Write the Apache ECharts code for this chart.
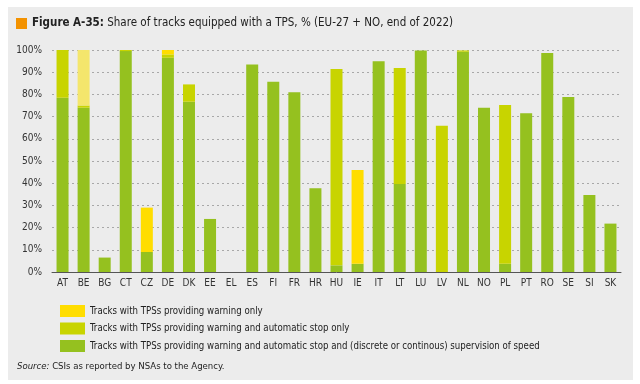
<!DOCTYPE html>
<html><head><meta charset="utf-8">
<script src="https://cdn.jsdelivr.net/npm/echarts@6/dist/echarts.min.js"></script>
<style>html,body{margin:0;padding:0;background:#fff}#c{width:640px;height:384px}</style>
</head><body><div id="c"></div>
<script>
const categories = ['AT','BE','BG','CT','CZ','DE','DK','EE','EL','ES','FI','FR','HR','HU','IE','IT','LT','LU','LV','NL','NO','PL','PT','RO','SE','SI','SK'];
const fullSupervision = [78.5,74,6.5,99.5,9,96.5,76.7,23.9,0,93.5,85.7,81,37.7,3,3.7,94.9,39.6,99.8,0,99.2,74,3.7,71.5,98.6,78.8,34.7,21.8];
const autoStopOnly = [21.5,1,0,0.5,0,1.5,7.8,0,0,0,0,0,0,88.4,0,0,52.3,0,65.9,0.6,0,71.5,0,0,0,0,0];
const warningOnly = [0,25,0,0,20,2,0,0,0,0,0,0,0,0,42.3,0,0,0,0,0,0,0,0,0,0,0,0];
const yTicks = [0,10,20,30,40,50,60,70,80,90,100];
const seriesNames = ['Tracks with TPSs providing warning only','Tracks with TPSs providing warning and automatic stop only','Tracks with TPSs providing warning and automatic stop and (discrete or continous) supervision of speed'];

const FONT = "'Liberation Sans Narrow','DejaVu Sans Condensed',sans-serif";
const chart = echarts.init(document.getElementById('c'));
const paleIdx = categories.indexOf('BE');
chart.setOption({
  animation:false,
  backgroundColor:'#ffffff',
  textStyle:{fontFamily:FONT},
  graphic:[
    {type:'rect',left:8,top:7,shape:{width:625,height:373},style:{fill:'#ececec'},z:-10},
    {type:'rect',left:16,top:18,shape:{width:11,height:11},style:{fill:'#f39200'}},
    {type:'text',left:32,top:17,style:{text:'{b|Figure A-35:} Share of tracks equipped with a TPS, % (EU-27 + NO, end of 2022)',
      rich:{b:{fontWeight:'bold',fontSize:11.5,fontFamily:FONT,fill:'#222'}},fontSize:11.5,fontFamily:FONT,fill:'#222'}},
    {type:'text',left:17,top:362,style:{text:'{i|Source:} CSIs as reported by NSAs to the Agency.',
      rich:{i:{fontStyle:'italic',fontSize:9.5,fontFamily:FONT,fill:'#222'}},fontSize:9.5,fontFamily:FONT,fill:'#222'}}
  ],
  legend:{
    orient:'vertical',left:55,top:300,itemWidth:25,itemHeight:12,itemGap:5.5,
    icon:'rect',data:seriesNames,
    textStyle:{fontSize:9.6,fontFamily:FONT,color:'#222',lineHeight:12,padding:[0,0,0,0]}
  },
  grid:{left:52,right:19,top:50,bottom:112},
  xAxis:{type:'category',data:categories,
    axisLine:{lineStyle:{color:'#555',width:1}},axisTick:{show:false},
    axisLabel:{fontSize:10,color:'#333',margin:6,interval:0}},
  yAxis:{type:'value',min:0,max:100,interval:10,
    axisLabel:{formatter:v=>yTicks.includes(v)?v+'%':'',fontSize:10,color:'#333',margin:10},
    axisLine:{show:false},axisTick:{show:false},
    splitLine:{lineStyle:{type:[2,3],color:'#a8a8a8',width:1}}},
  series:[
    {name:seriesNames[2],type:'bar',stack:'s',barWidth:12,data:fullSupervision,itemStyle:{color:'#95c11f'}},
    {name:seriesNames[1],type:'bar',stack:'s',barWidth:12,data:autoStopOnly,itemStyle:{color:'#c8d400'}},
    {name:seriesNames[0],type:'bar',stack:'s',barWidth:12,
      data:warningOnly.map((v,i)=>i===paleIdx?{value:v,itemStyle:{color:'#f4e66c'}}:v),itemStyle:{color:'#ffdd00'}}
  ]
});
</script></body></html>
